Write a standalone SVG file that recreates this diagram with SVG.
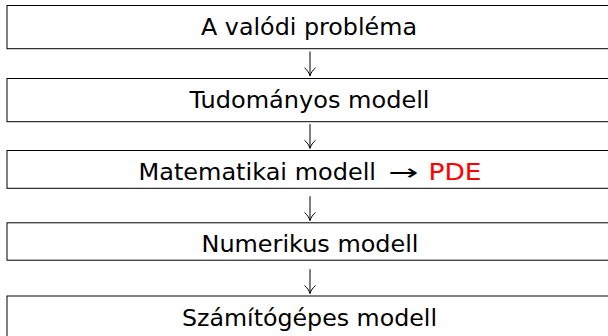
<svg xmlns="http://www.w3.org/2000/svg" width="608" height="336" viewBox="0 0 608 336">
  <style>
    .box { fill: #ffffff; stroke: #000000; stroke-width: 1; }
    .lbl { font-family: "DejaVu Sans", "Liberation Sans", sans-serif; font-size: 22.5px; fill: #000000; }
    .red { fill: #ff0000; }
    .arr { fill: none; stroke: #000000; stroke-width: 1; }
  </style>
  <rect x="0" y="0" width="608" height="336" fill="#ffffff"/>
  <g id="n1">
    <rect class="box" x="7" y="5.5" width="610" height="43.2"/>
    <text class="lbl" x="201" y="35" textLength="216" lengthAdjust="spacingAndGlyphs">A valódi probléma</text>
  </g>
  <g id="n2">
    <rect class="box" x="7" y="78.5" width="610" height="43.2"/>
    <text class="lbl" x="189.5" y="107.5" textLength="240" lengthAdjust="spacingAndGlyphs">Tudományos modell</text>
  </g>
  <g id="n3">
    <rect class="box" x="7" y="150.5" width="610" height="37.8"/>
    <text class="lbl" x="138.5" y="179.5" textLength="237.5" lengthAdjust="spacingAndGlyphs">Matematikai modell</text>
    <text class="lbl" transform="translate(388,179.5) scale(1.6,1)" x="0" y="0">→</text>
    <text class="lbl red" x="428.5" y="179.5" textLength="53" lengthAdjust="spacingAndGlyphs">PDE</text>
  </g>
  <g id="n4">
    <rect class="box" x="7" y="222.8" width="610" height="37.4"/>
    <text class="lbl" x="201.5" y="252" textLength="217" lengthAdjust="spacingAndGlyphs">Numerikus modell</text>
  </g>
  <g id="n5">
    <rect class="box" x="7" y="296" width="610" height="45"/>
    <text class="lbl" x="182" y="325.5" textLength="255" lengthAdjust="spacingAndGlyphs">Számítógépes modell</text>
  </g>
  <g id="connectors">
    <path class="arr" d="M310,51.5 V75.8 M304.5,67.8 C307,70 309,72.5 310,75.8 C311,72.5 313,70 315.5,67.8"/>
    <path class="arr" d="M310,124 V148.3 M304.5,140.3 C307,142.5 309,145 310,148.3 C311,145 313,142.5 315.5,140.3"/>
    <path class="arr" d="M310,196.2 V220.5 M304.5,212.5 C307,214.7 309,217.2 310,220.5 C311,217.2 313,214.7 315.5,212.5"/>
    <path class="arr" d="M310,269.2 V293.5 M304.5,285.5 C307,287.7 309,290.2 310,293.5 C311,290.2 313,287.7 315.5,285.5"/>
  </g>
</svg>
